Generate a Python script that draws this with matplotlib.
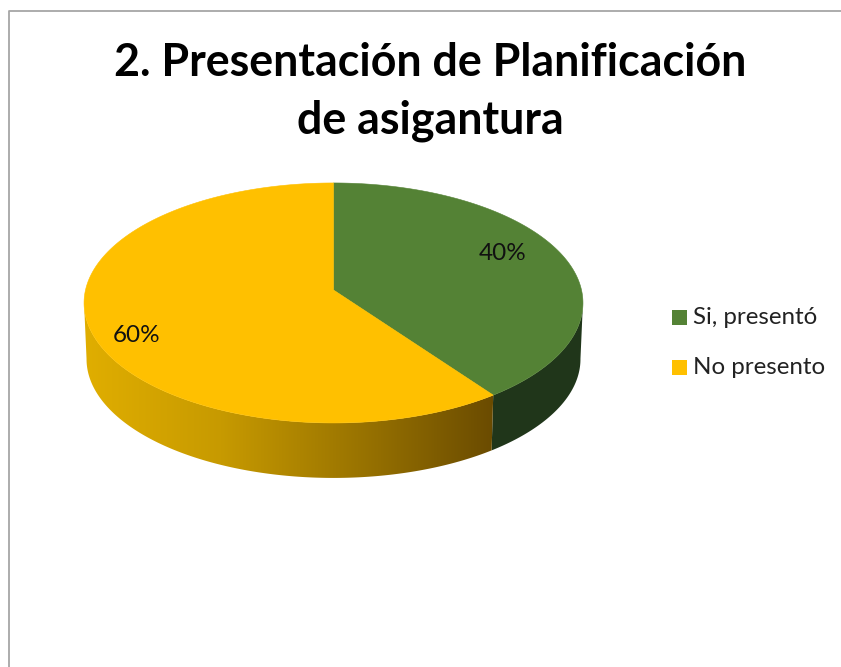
import numpy as np
import matplotlib
matplotlib.use('Agg')
import matplotlib.pyplot as plt
from matplotlib.colors import LinearSegmentedColormap
from matplotlib.patches import Polygon, Rectangle

# Datos del gráfico
title_lines = ['2. Presentación de Planificación', 'de asigantura']
categories = ['Si, presentó', 'No presento']
values = [40, 60]
colors = ['#548235', '#FFC000']

plt.rcParams['font.family'] = ['Lato', 'DejaVu Sans']

fig = plt.figure(figsize=(8.41, 6.67), dpi=100)
ax = fig.add_axes([0, 0, 1, 1])
ax.set_xlim(0, 841)
ax.set_ylim(667, 0)
ax.axis('off')

# Marco del gráfico: solo se ven los bordes superior e izquierdo
ax.plot([9, 9, 841], [667, 11, 11], color='#A6A6A6', lw=1.3)


# Proyección en perspectiva del disco: ángulo en grados, 0 arriba, sentido horario
def project(deg, cx=333.5, cy=290, r=248, h=118.6, k=0.108, s=1.0):
    t = np.radians(deg)
    u, v = np.sin(t), -np.cos(t)
    d = 1 - k * v
    return cx + s * r * u / d, cy + s * h * v / d


def arc(a, b, **kw):
    t = np.linspace(a, b, 200)
    return np.column_stack(project(t, **kw))


def side_path(a, b):
    top = arc(a, b)
    base = arc(a, b, cy=346.3, s=0.99)
    return np.vstack([top, base[::-1]])


# Ángulos de cada porción a partir de los valores
angles = 360 * np.cumsum([0] + values) / sum(values)
split = angles[1]

# Cara lateral verde
ax.add_patch(Polygon(side_path(96, split), fc='#20361A', ec='none', zorder=2))

# Cara lateral amarilla con degradado
yellow_side = Polygon(side_path(split, 264), fc='none', ec='none', zorder=2)
ax.add_patch(yellow_side)
cmap = LinearSegmentedColormap.from_list('lado', ['#E0AE00', '#C79A00', '#9A7400', '#6A4B00'])
grad = np.linspace(0, 1, 256).reshape(1, -1)
im = ax.imshow(grad, cmap=cmap, extent=(84, 495, 480, 280), aspect='auto', zorder=2)
im.set_clip_path(yellow_side)
ax.set_xlim(0, 841)
ax.set_ylim(667, 0)

# Cara superior
for i, color in enumerate(colors):
    pts = arc(angles[i], angles[i + 1])
    pts = np.vstack([[333.5, 290], pts])
    ax.add_patch(Polygon(pts, fc=color, ec=color, lw=0.4, zorder=3))

# Etiquetas de porcentaje
ax.text(502.5, 254, f'{values[0]}%', ha='center', va='center', fontsize=17.5, color='#111111', zorder=4)
ax.text(137, 336, f'{values[1]}%', ha='center', va='center', fontsize=17.5, color='#111111', zorder=4)

# Título
ax.text(430.5, 63, title_lines[0], ha='center', va='center', fontsize=32.2, fontweight='bold', color='black')
ax.text(430.5, 121, title_lines[1], ha='center', va='center', fontsize=32.2, fontweight='bold', color='black')

# Leyenda
for y, name, color in zip([317, 367], categories, colors):
    ax.add_patch(Rectangle((672, y - 7.5), 15, 15, fc=color, ec='none'))
    ax.text(693, y + 1, name, ha='left', va='center', fontsize=17.4, color='#222222')

fig.savefig('out.png', dpi=100)
